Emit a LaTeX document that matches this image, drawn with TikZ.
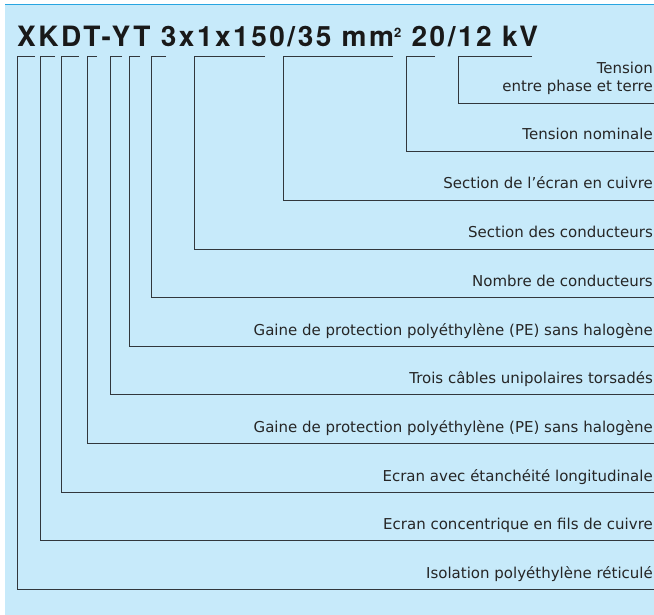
\documentclass[tikz,border=0pt]{standalone}
\usepackage{fontspec}
\setmainfont{DejaVu Sans}
\newfontfamily\titlefont[LetterSpace=9]{TeX Gyre Heros}
\usetikzlibrary{positioning}

\definecolor{panelblue}{RGB}{199,234,250}
\definecolor{rimblue}{RGB}{40,165,225}
\definecolor{leadgray}{RGB}{50,55,60}

\newcommand{\sqsup}{\raisebox{9pt}{\fontsize{13}{13}\selectfont 2}}

\begin{document}
\begin{tikzpicture}[x=1pt, y=-1pt,
        leader/.style={draw=leadgray, line width=0.9pt},
        desc/.style={anchor=base east, inner sep=0pt, align=right,
                     font=\fontsize{15}{18}\selectfont, text=black!85}
    ]
        \useasboundingbox (0,0) rectangle (654,615);
        \fill[panelblue] (5,5) rectangle (654,615);
        \draw[rimblue, line width=1pt] (5,5) -- (654,5);

        \node[anchor=base west, inner sep=0pt, text=black!90,
              font=\titlefont\bfseries\fontsize{28}{30}\selectfont]
            (title) at (17,47) {XKDT-YT 3x1x150/35 mm\sqsup\ 20/12 kV};

        % leaders from the code letters down to their meaning
        \foreach \xa/\xb/\yy/\txt [count=\i] in {
            17/35/589/{Isolation polyéthylène réticulé},
            40/55/540/{Ecran concentrique en fils de cuivre},
            61/79/492/{Ecran avec étanchéité longitudinale},
            87/97/443/{Gaine de protection polyéthylène (PE) sans halogène},
            110/122/394/{Trois câbles unipolaires torsadés},
            129/140/346/{Gaine de protection polyéthylène (PE) sans halogène},
            151/166/297/{Nombre de conducteurs},
            194/265/249/{Section des conducteurs},
            283/393/200/{Section de l'écran en cuivre},
            406/435/151/{Tension nominale},
            458/532/103/{Tension\\entre phase et terre}}
        {
            \coordinate (top-\i) at (\xb,56);
            \coordinate (end-\i) at (654,\yy);
            \node[desc] (lbl-\i) at (653,\yy-11) {\txt};
            \draw[leader] (top-\i) -| (\xa,\yy) -- (end-\i);
        }
    \end{tikzpicture}
\end{document}
